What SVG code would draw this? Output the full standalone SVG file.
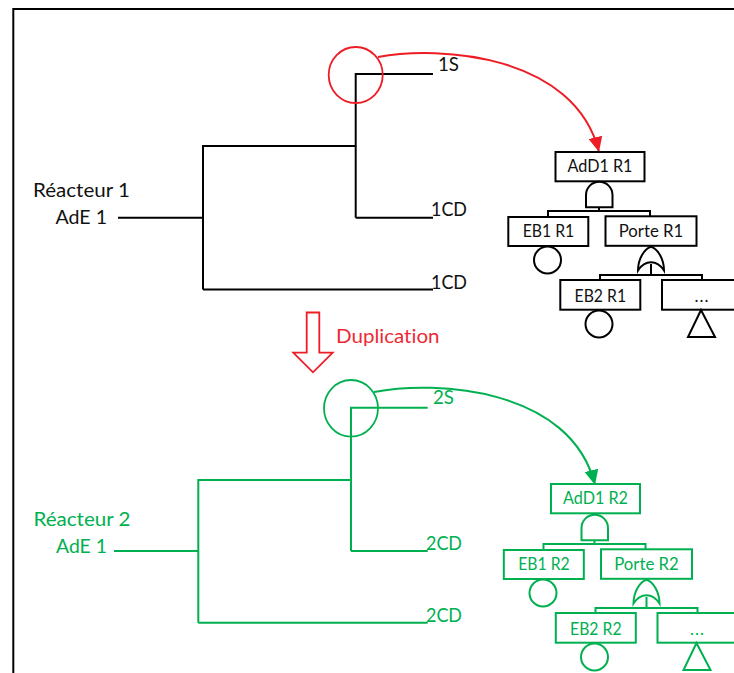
<svg xmlns="http://www.w3.org/2000/svg" width="734" height="673" viewBox="0 0 734 673">
<style>
text{font-family:"Lato","Liberation Sans",sans-serif;font-size:19.5px;fill:#111;font-variant-ligatures:none}
.s{font-size:17px;text-anchor:middle}
.k{fill:none;stroke:#000;stroke-width:2}
.b{fill:#fff;stroke:#000;stroke-width:2}
.gr text{fill:#00b050}
.gr .k{stroke:#00b050}
.gr .b{fill:#fff;stroke:#00b050}
.rd{fill:#ee2a35}
</style>
<defs>
<marker id="ar" markerUnits="userSpaceOnUse" markerWidth="16" markerHeight="16" refX="15" refY="7.500" orient="auto"><path d="M0 0.500L15 7.500L0 14.500Z" fill="#ee1c25"/></marker>
<marker id="ag" markerUnits="userSpaceOnUse" markerWidth="16" markerHeight="16" refX="15" refY="7.500" orient="auto"><path d="M0 0.500L15 7.500L0 14.500Z" fill="#00b050"/></marker>
</defs>
<path id="frame" d="M734 9H13.300V673" fill="none" stroke="#000" stroke-width="2"/>
<g id="connectors">
<path class="k" d="M118 217.700H203M203 289.500V146H355.700M355.700 217.700V74H433M355.700 217.700H433M203 289.500H433"/>
<path d="M378 57C440 45 575 55 599 152" fill="none" stroke="#ee1c25" stroke-width="2" marker-end="url(#ar)"/>
<path d="M114 551H198.300M198.300 622.700V480H351M351 551V407.700H427.700M351 551H427.700M198.300 622.700H427.700" fill="none" stroke="#00b050" stroke-width="2"/>
<path d="M374 392C436 380 571 388 595 485" fill="none" stroke="#00b050" stroke-width="2" marker-end="url(#ag)"/>
</g>
<g id="reactor1">
<text x="33" y="197" textLength="97" lengthAdjust="spacingAndGlyphs">Réacteur 1</text>
<text x="55.500" y="224" textLength="51.500" lengthAdjust="spacingAndGlyphs">AdE 1</text>
<text x="438" y="70.700" textLength="21" lengthAdjust="spacingAndGlyphs">1S</text>
<text x="431" y="215.700" textLength="36" lengthAdjust="spacingAndGlyphs">1CD</text>
<text x="431" y="289" textLength="36" lengthAdjust="spacingAndGlyphs">1CD</text>
<ellipse cx="355.700" cy="75" rx="27" ry="28" fill="none" stroke="#ee1c25" stroke-width="1.800"/>
</g>
<g id="duplication">
<path d="M306.700 312.500H319.300V352.700H332.700L313 372.300L293.300 352.700H306.700Z" fill="none" stroke="#ee1c25" stroke-width="1.800"/>
<text class="rd" x="336" y="343" textLength="103.500" lengthAdjust="spacingAndGlyphs">Duplication</text>
</g>
<g id="tree1">
<g id="t1-add1"><rect class="b" x="555.500" y="152" width="89" height="29.300"/><text class="s" x="600" y="172.300" textLength="65" lengthAdjust="spacingAndGlyphs">AdD1 R1</text></g>
<path class="k" d="M586 207.300V195A13.200 13.200 0 0 1 612.500 195V207.300ZM599 207.300V211M548 217V211H650V217"/>
<g id="t1-eb1"><rect class="b" x="508.300" y="217" width="80" height="29"/><text class="s" x="548.500" y="236.700" textLength="51.500" lengthAdjust="spacingAndGlyphs">EB1 R1</text><circle class="k" cx="547.500" cy="260" r="13.500"/></g>
<g id="t1-porte"><rect class="b" x="605.500" y="216.300" width="91" height="29.500"/><text class="s" x="651" y="236.700" textLength="64.500" lengthAdjust="spacingAndGlyphs">Porte R1</text></g>
<path class="k" d="M638 270.500C638 259 644 249 651 246.700C658 249 664 259 664 270.500C657 259.500 645 259.500 638 270.500ZM651 264V275M600 280V275H702V280"/>
<g id="t1-eb2"><rect class="b" x="560.300" y="280" width="80" height="29.700"/><text class="s" x="600.300" y="301.700" textLength="51.500" lengthAdjust="spacingAndGlyphs">EB2 R1</text><circle class="k" cx="599" cy="324" r="13.500"/></g>
<g id="t1-more"><rect class="b" x="662" y="280" width="80" height="29.700"/><text class="s" x="701.500" y="302" textLength="14" lengthAdjust="spacing">...</text><path class="k" d="M701 310L715 337H688Z"/></g>
</g>
<g id="reactor2" class="gr">
<text x="33.500" y="525.700" textLength="97" lengthAdjust="spacingAndGlyphs">Réacteur 2</text>
<text x="56" y="552.700" textLength="51" lengthAdjust="spacingAndGlyphs">AdE 1</text>
<text x="433" y="404" textLength="21" lengthAdjust="spacingAndGlyphs">2S</text>
<text x="426" y="550" textLength="36" lengthAdjust="spacingAndGlyphs">2CD</text>
<text x="426" y="622" textLength="36" lengthAdjust="spacingAndGlyphs">2CD</text>
<ellipse cx="351" cy="408.300" rx="27" ry="28.300" fill="none" stroke="#00b050" stroke-width="1.800"/>
</g>
<g id="tree2" class="gr" transform="translate(-4.500 333)">
<g id="t2-add1"><rect class="b" x="555.500" y="151" width="89" height="29.300"/><text class="s" x="600" y="171.300" textLength="65" lengthAdjust="spacingAndGlyphs">AdD1 R2</text></g>
<path class="k" d="M586 207.300V195A13.200 13.200 0 0 1 612.500 195V207.300ZM599 207.300V211M548 217V211H650V217"/>
<g id="t2-eb1"><rect class="b" x="508.300" y="217" width="80" height="29"/><text class="s" x="548.500" y="236.700" textLength="51.500" lengthAdjust="spacingAndGlyphs">EB1 R2</text><circle class="k" cx="547.500" cy="260" r="13.500"/></g>
<g id="t2-porte"><rect class="b" x="605.500" y="216.300" width="91" height="29.500"/><text class="s" x="651" y="236.700" textLength="64.500" lengthAdjust="spacingAndGlyphs">Porte R2</text></g>
<path class="k" d="M638 270.500C638 259 644 249 651 246.700C658 249 664 259 664 270.500C657 259.500 645 259.500 638 270.500ZM651 264V275M600 280V275H702V280"/>
<g id="t2-eb2"><rect class="b" x="560.300" y="280" width="80" height="29.700"/><text class="s" x="600.300" y="301.700" textLength="51.500" lengthAdjust="spacingAndGlyphs">EB2 R2</text><circle class="k" cx="599" cy="324" r="13.500"/></g>
<g id="t2-more"><rect class="b" x="662" y="280" width="80" height="29.700"/><text class="s" x="701.500" y="302" textLength="14" lengthAdjust="spacing">...</text><path class="k" d="M701 310L715 337H688Z"/></g>
</g>
</svg>
